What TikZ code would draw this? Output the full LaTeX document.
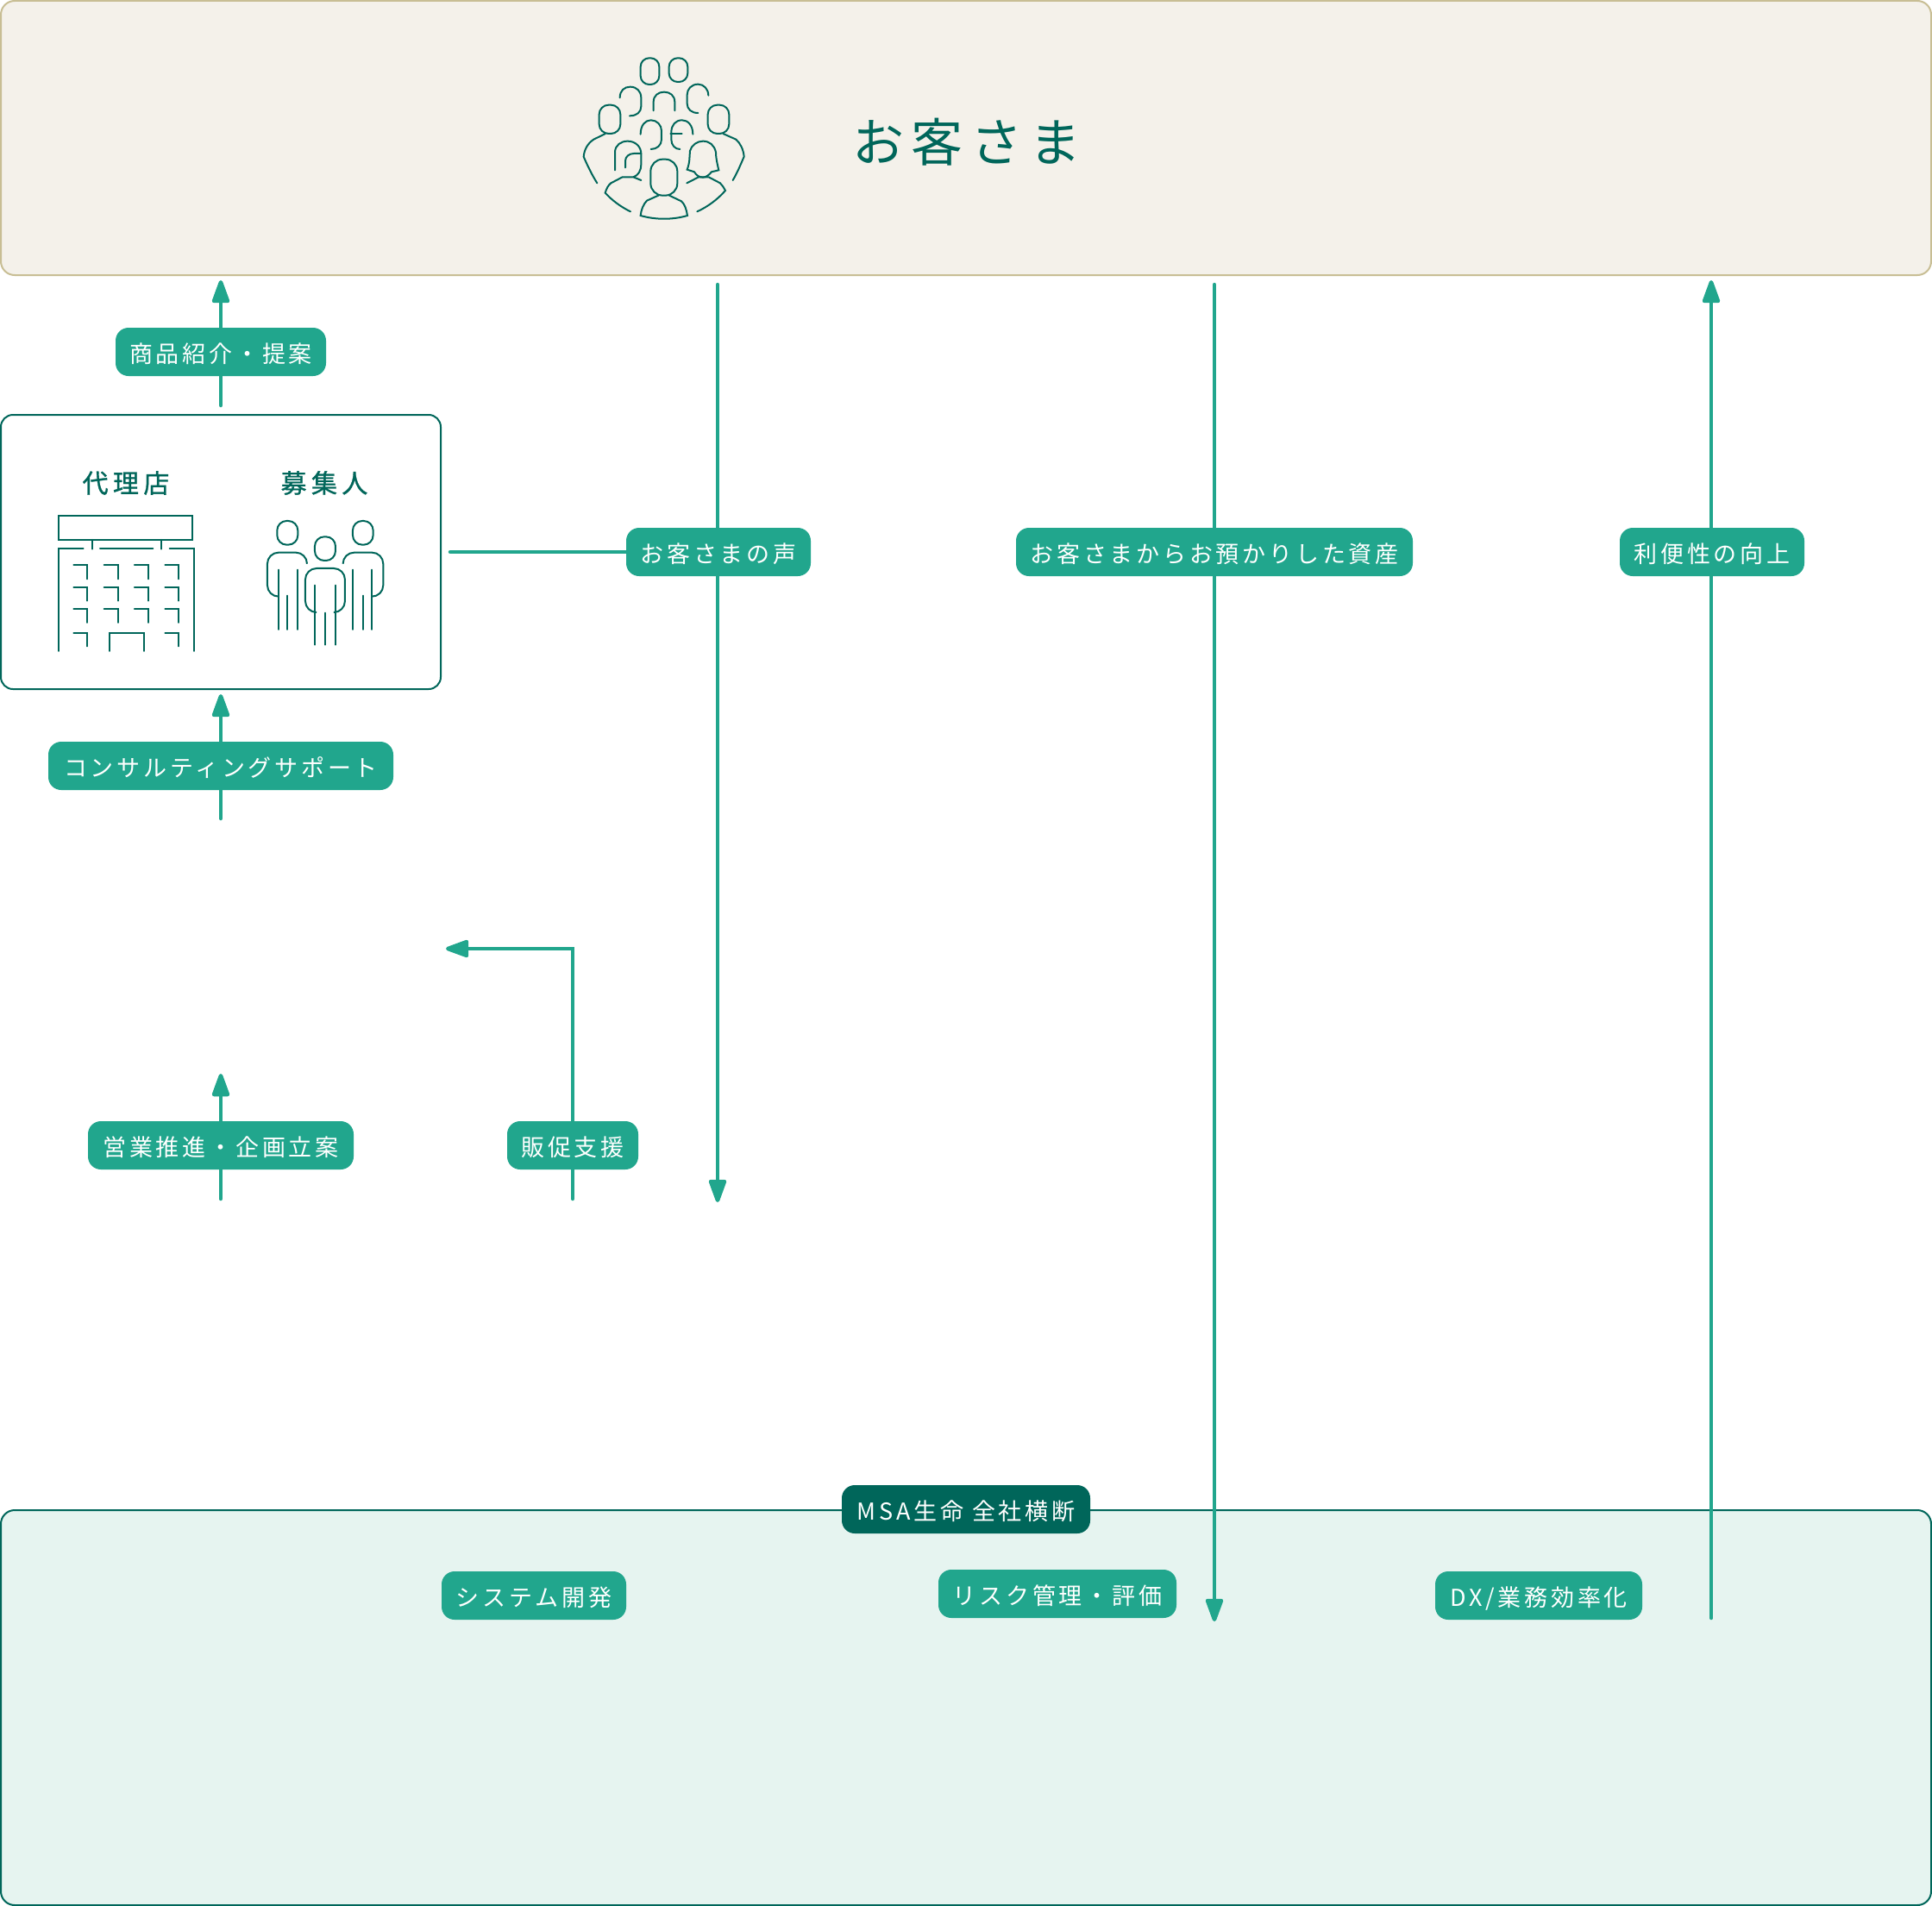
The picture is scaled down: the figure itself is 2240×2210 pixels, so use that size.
\documentclass[tikz,border=0pt]{standalone}
\usepackage{fontspec}
\setmainfont{Noto Sans CJK JP}
\newfontfamily\tagfont[LetterSpace=14]{Noto Sans CJK JP}
\newfontfamily\headfont[LetterSpace=18,FakeBold=1]{Noto Sans CJK JP}
\newfontfamily\titlefont[LetterSpace=14]{Noto Sans CJK JP}
\usetikzlibrary{arrows.meta}
\definecolor{midgreen}{HTML}{21A68D}
\definecolor{deepgreen}{HTML}{00665A}
\definecolor{paleBeige}{HTML}{F4F1EA}
\definecolor{beigeline}{HTML}{C8BE94}
\definecolor{palegreen}{HTML}{E6F4F0}
\begin{document}
\begin{tikzpicture}[x=1pt,y=-1pt,
  tag/.style={fill=midgreen,text=white,rounded corners=15pt,inner sep=0pt,text height=28pt,text depth=4pt,
    minimum height=56pt,minimum width=#1,font=\fontsize{27}{30}\selectfont\tagfont},
  darktag/.style={tag=#1,fill=deepgreen},
  arrowline/.style={draw=midgreen,line width=4.5pt,line cap=round},
  arrowhead/.style={arrowline,-{Triangle[length=31pt,width=21pt,round]}},
  head/.style={font=\fontsize{30}{32}\selectfont\headfont,text=deepgreen,inner sep=0pt},
  iconline/.style={draw=deepgreen,line width=2pt,line cap=round}]
  \useasboundingbox (0,0) rectangle (2240,2210);

  \node[draw=beigeline,fill=paleBeige,line width=2pt,rounded corners=16pt,minimum width=2238pt,minimum height=318pt] (okyakusama) at (1120,160) {};
  \node[draw=deepgreen,fill=white,line width=2pt,rounded corners=14pt,minimum width=510pt,minimum height=318pt] (dairiten) at (256,640) {};
  \node[draw=deepgreen,fill=palegreen,line width=2pt,rounded corners=16pt,minimum width=2238pt,minimum height=458pt] (zensha) at (1120,1980) {};

  \node[text=deepgreen,inner sep=0pt,font=\fontsize{60}{68}\selectfont\titlefont] (title) at (1121,165) {お客さま};
  \node[head] (dairi) at (146,560) {代理店};
  \node[head] (boshu) at (376,560) {募集人};

  \node[tag=244pt] (teian) at (256,408) {商品紹介・提案};
  \node[tag=400pt] (consul) at (256,888) {コンサルティングサポート};
  \node[tag=308pt] (eigyo) at (256,1328) {営業推進・企画立案};
  \node[tag=152pt] (hansoku) at (664,1328) {販促支援};
  \node[tag=214pt] (koe) at (833,640) {お客さまの声};
  \node[tag=460pt] (shisan) at (1408,640) {お客さまからお預かりした資産};
  \node[tag=214pt] (benri) at (1985,640) {利便性の向上};
  \node[darktag=288pt] (msa) at (1120,1750) {MSA生命 全社横断};
  \node[tag=214pt] (system) at (619,1850) {システム開発};
  \node[tag=276pt] (risk) at (1226,1848) {リスク管理・評価};
  \node[tag=240pt] (dx) at (1784,1850) {DX/業務効率化};

  \coordinate (teian_s) at (256,470);
  \coordinate (teian_e) at (256,325);
  \coordinate (consul_s) at (256,949);
  \coordinate (consul_e) at (256,805);
  \coordinate (eigyo_s) at (256,1390);
  \coordinate (eigyo_e) at (256,1245);
  \coordinate (hansoku_s) at (664,1390);
  \coordinate (hansoku_m) at (664,1100);
  \coordinate (hansoku_e) at (517,1100);
  \coordinate (koe_s) at (832,330);
  \coordinate (koe_e) at (832,1394);
  \coordinate (koe_l) at (522,640);
  \coordinate (shisan_s) at (1408,330);
  \coordinate (shisan_e) at (1408,1880);
  \coordinate (benri_s) at (1984,1876);
  \coordinate (benri_e) at (1984,325);

  \draw[arrowline] (teian_s) -- (teian);
  \draw[arrowhead] (teian) -- (teian_e);
  \draw[arrowline] (consul_s) -- (consul);
  \draw[arrowhead] (consul) -- (consul_e);
  \draw[arrowline] (eigyo_s) -- (eigyo);
  \draw[arrowhead] (eigyo) -- (eigyo_e);
  \draw[arrowline] (hansoku_s) -- (hansoku);
  \draw[arrowhead] (hansoku) -- (hansoku_m) -- (hansoku_e);
  \draw[arrowline] (koe_s) -- (koe_s |- koe.north);
  \draw[arrowline] (koe_l) -- (koe);
  \draw[arrowhead] (koe_s |- koe.south) -- (koe_e);
  \draw[arrowline] (shisan_s) -- (shisan);
  \draw[arrowhead] (shisan) -- (shisan_e);
  \draw[arrowline] (benri_s) -- (benri_s |- benri.south);
  \draw[arrowhead] (benri_s |- benri.north) -- (benri_e);

  \begin{scope}[shift={(640,40)},x=0.3333pt,y=-0.3333pt,iconline]
    \draw[rounded corners=10pt] (308,82) rectangle (373,174);
    \draw[rounded corners=10pt] (407,82) rectangle (472,165);
    \draw[rounded corners=11pt] (164,245) rectangle (238,345);
    \draw[rounded corners=11pt] (542,245) rectangle (616,345);
    \draw[rounded corners=14pt] (343,434) rectangle (436,560);
    \draw (236,220) .. controls (236,195) and (252,182) .. (272,182) .. controls (295,182) and (310,198) .. (310,220) -- (310,250) .. controls (310,270) and (295,283) .. (270,283);
    \draw (353,265) -- (353,235) .. controls (353,212) and (370,200) .. (390,200) .. controls (410,200) and (427,212) .. (427,235) -- (427,265);
    \draw (544,212) .. controls (544,190) and (528,173) .. (508,173) .. controls (485,173) and (470,190) .. (470,210) -- (470,240) .. controls (470,260) and (485,273) .. (508,273);
    \draw (186,345) -- (145,365) .. controls (125,378) and (112,400) .. (110,425) .. controls (125,460) and (140,490) .. (157,517);
    \draw (595,345) -- (640,365) .. controls (655,378) and (666,400) .. (668,425) .. controls (655,455) and (645,480) .. (629,507);
    \draw (308,347) .. controls (308,315) and (325,298) .. (344,298) .. controls (365,298) and (381,315) .. (381,335) -- (381,365) .. controls (381,385) and (365,399) .. (344,399);
    \draw (490,347) .. controls (490,315) and (472,298) .. (452,298) .. controls (430,298) and (415,315) .. (415,340) -- (415,365) .. controls (415,385) and (428,399) .. (445,399);
    \draw (412,344) -- (452,344);
    \draw (219,472) -- (219,410) .. controls (219,385) and (240,371) .. (263,371) .. controls (290,371) and (310,390) .. (310,415) -- (310,450) .. controls (310,475) and (300,490) .. (283,496);
    \draw (255,463) -- (255,440) .. controls (255,425) and (268,414) .. (285,414) -- (310,414);
    \draw (273,616) .. controls (240,600) and (210,578) .. (185,551) .. controls (190,535) and (195,525) .. (205,517) -- (245,496) -- (283,496) -- (310,507);
    \draw (470,470) .. controls (480,445) and (478,425) .. (480,405) .. controls (485,385) and (505,371) .. (525,371) .. controls (548,371) and (565,385) .. (570,410) .. controls (570,430) and (575,450) .. (580,472) -- (555,478) .. controls (545,490) and (535,497) .. (525,497) .. controls (512,497) and (502,490) .. (495,478) -- cycle;
    \draw (469,517) -- (510,496) -- (545,496) -- (585,517) .. controls (593,525) and (598,533) .. (603,543) .. controls (575,575) and (540,600) .. (505,616);
    \draw (370,560) -- (330,578) .. controls (318,590) and (310,610) .. (308,630) .. controls (360,645) and (420,645) .. (471,630) .. controls (468,610) and (462,590) .. (450,580) -- (408,560);
  \end{scope}

  \begin{scope}[shift={(40,510)},x=0.3333pt,y=-0.3333pt,iconline]
    \draw (85,263) rectangle (549,348);
    \draw (200,348) -- (200,380);
    \draw (440,348) -- (440,380);
    \draw (228,378) -- (412,378);
    \draw (170,377) -- (84,377) -- (84,735);
    \draw (470,377) -- (555,377) -- (555,735);
    \foreach \wx in {136,242,348,454}
      \foreach \wy in {436,512,588}
        \draw (\wx,\wy) -- ++(48,0) -- ++(0,48);
    \draw (136,672) -- ++(48,0) -- ++(0,46);
    \draw (454,672) -- ++(48,0) -- ++(0,46);
    \draw (260,735) -- (260,672) -- (380,672) -- (380,735);

    \draw[rounded corners=11pt] (844,282) rectangle (916,365);
    \draw[rounded corners=11pt] (975,337) rectangle (1047,420);
    \draw[rounded corners=11pt] (1107,282) rectangle (1178,365);
    \draw[rounded corners=13pt] (948,430) |- (810,392) |- (848,545);
    \draw[rounded corners=13pt] (1073,430) |- (1213,392) |- (1175,545);
    \draw[rounded corners=13pt] (975,600) -| (942,447) -| (1080,600) -- (1047,600);
    \foreach \lx/\ly in {849/452,879/542,915/452,1107/452,1143/542,1173/452}
      \draw (\lx,\ly) -- (\lx,660);
    \foreach \lx/\ly in {975/506,1011/602,1047/506}
      \draw (\lx,\ly) -- (\lx,713);
  \end{scope}
\end{tikzpicture}
\end{document}
